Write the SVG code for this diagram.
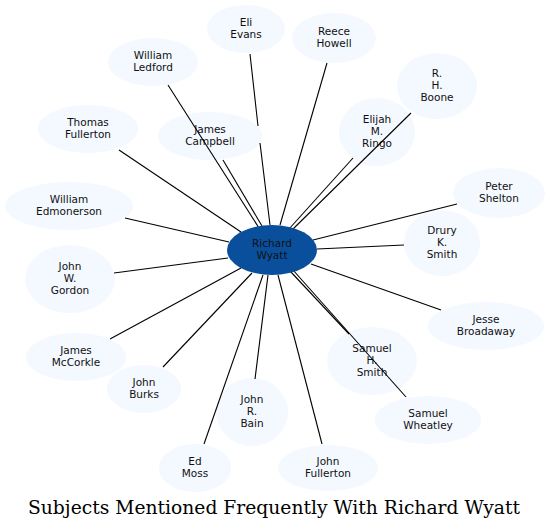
<svg xmlns="http://www.w3.org/2000/svg" width="550" height="530" viewBox="0 0 550 530">
<style>
.n ellipse{fill:#f4f8ff;stroke:none}
.n text,.c text{font-family:"DejaVu Sans",sans-serif;font-size:10.5px;text-anchor:middle;fill:#111}
.c ellipse{fill:#0a4f9c;stroke:none}
#edges line,#edges path{stroke:#000;stroke-width:1.1;fill:none}
.title{font-family:"DejaVu Serif",serif;font-size:18.5px;text-anchor:middle;fill:#000}
</style>
<rect width="550" height="530" fill="#fff"/>
<g id="nodes">
<g id="eli-evans" class="n"><ellipse cx="246" cy="29" rx="39" ry="24"/><text x="246" y="26">Eli</text><text x="246" y="38">Evans</text></g>
<g id="reece-howell" class="n"><ellipse cx="334" cy="38" rx="42" ry="25"/><text x="334" y="35">Reece</text><text x="334" y="47">Howell</text></g>
<g id="william-ledford" class="n"><ellipse cx="153" cy="62" rx="45" ry="24"/><text x="153" y="59">William</text><text x="153" y="71">Ledford</text></g>
<g id="rh-boone" class="n"><ellipse cx="437" cy="86" rx="40" ry="33"/><text x="437" y="77">R.</text><text x="437" y="89">H.</text><text x="437" y="101">Boone</text></g>
<g id="thomas-fullerton" class="n"><ellipse cx="88" cy="129" rx="50" ry="24"/><text x="88" y="126">Thomas</text><text x="88" y="138">Fullerton</text></g>
<g id="james-campbell" class="n"><ellipse cx="210" cy="136" rx="52" ry="24"/><text x="210" y="133">James</text><text x="210" y="145">Campbell</text></g>
<g id="elijah-ringo" class="n"><ellipse cx="377" cy="132" rx="38" ry="34"/><text x="377" y="123">Elijah</text><text x="377" y="135">M.</text><text x="377" y="147">Ringo</text></g>
<g id="peter-shelton" class="n"><ellipse cx="499" cy="193" rx="46" ry="25"/><text x="499" y="190">Peter</text><text x="499" y="202">Shelton</text></g>
<g id="william-edmonerson" class="n"><ellipse cx="69" cy="206" rx="64" ry="24"/><text x="69" y="203">William</text><text x="69" y="215">Edmonerson</text></g>
<g id="drury-smith" class="n"><ellipse cx="442" cy="243" rx="38" ry="33"/><text x="442" y="234">Drury</text><text x="442" y="246">K.</text><text x="442" y="258">Smith</text></g>
<g id="john-gordon" class="n"><ellipse cx="70" cy="279" rx="45" ry="34"/><text x="70" y="270">John</text><text x="70" y="282">W.</text><text x="70" y="294">Gordon</text></g>
<g id="jesse-broadaway" class="n"><ellipse cx="486" cy="326" rx="58" ry="24"/><text x="486" y="323">Jesse</text><text x="486" y="335">Broadaway</text></g>
<g id="james-mccorkle" class="n"><ellipse cx="76" cy="357" rx="50" ry="24"/><text x="76" y="354">James</text><text x="76" y="366">McCorkle</text></g>
<g id="john-burks" class="n"><ellipse cx="144" cy="389" rx="37" ry="24"/><text x="144" y="386">John</text><text x="144" y="398">Burks</text></g>
<g id="john-bain" class="n"><ellipse cx="252" cy="412" rx="36" ry="34"/><text x="252" y="403">John</text><text x="252" y="415">R.</text><text x="252" y="427">Bain</text></g>
<g id="samuel-smith" class="n"><ellipse cx="372" cy="361" rx="45" ry="34"/><text x="372" y="352">Samuel</text><text x="372" y="364">H.</text><text x="372" y="376">Smith</text></g>
<g id="samuel-wheatley" class="n"><ellipse cx="428" cy="420" rx="53" ry="24"/><text x="428" y="417">Samuel</text><text x="428" y="429">Wheatley</text></g>
<g id="ed-moss" class="n"><ellipse cx="195" cy="468" rx="36" ry="24"/><text x="195" y="465">Ed</text><text x="195" y="477">Moss</text></g>
<g id="john-fullerton" class="n"><ellipse cx="328" cy="468" rx="50" ry="23"/><text x="328" y="465">John</text><text x="328" y="477">Fullerton</text></g>
</g>
<g id="edges">
<path d="M250,54 L258,126 M260,143 L270,225"/>
<line x1="327" y1="63" x2="280" y2="225"/>
<line x1="168" y1="85" x2="259" y2="228"/>
<line x1="411" y1="113" x2="292" y2="230"/>
<line x1="119" y1="150" x2="241" y2="232"/>
<line x1="223" y1="160" x2="262" y2="226"/>
<line x1="353" y1="158" x2="289" y2="229"/>
<line x1="457" y1="204" x2="313" y2="240"/>
<line x1="125" y1="218" x2="229" y2="242"/>
<line x1="404" y1="245" x2="317" y2="249"/>
<line x1="114" y1="273" x2="228" y2="258"/>
<line x1="441" y1="310" x2="311" y2="264"/>
<line x1="110" y1="339" x2="241" y2="268"/>
<line x1="349" y1="334" x2="290" y2="271"/>
<line x1="163" y1="367" x2="252" y2="273"/>
<line x1="255" y1="379" x2="268" y2="275"/>
<line x1="406" y1="397" x2="293" y2="270"/>
<line x1="204" y1="444" x2="263" y2="275"/>
<line x1="322" y1="444" x2="278" y2="275"/>
</g>
<g id="richard-wyatt" class="c"><ellipse cx="272" cy="250" rx="45" ry="25"/><text x="272" y="247">Richard</text><text x="272" y="259">Wyatt</text></g>
<text class="title" x="274" y="514" textLength="492" lengthAdjust="spacingAndGlyphs">Subjects Mentioned Frequently With Richard Wyatt</text>
</svg>
